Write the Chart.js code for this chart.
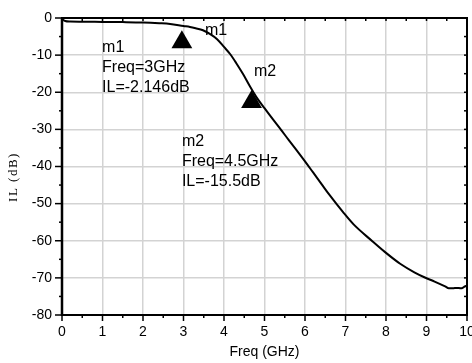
<!DOCTYPE html>
<html>
<head>
<meta charset="utf-8">
<script src="https://cdn.jsdelivr.net/npm/chart.js@4.4.0/dist/chart.umd.min.js"></script>
<style>
  body { margin: 0; background: #fff; }
  canvas { display: block; }
</style>
</head>
<body>
<canvas id="ilChart" width="472" height="363"></canvas>
<script>
// insertion loss trace
const freq = [0, 0.08, 0.2, 0.5, 1, 1.5, 2, 2.4, 2.67, 3.0, 3.16, 3.3, 3.48, 3.65, 3.83, 4.0, 4.15, 4.3, 4.47, 4.65,
    4.8, 5.0, 5.2, 5.4, 5.6, 5.8, 6.0, 6.2, 6.4, 6.6, 6.94, 7.2, 7.65, 7.97, 8.35, 8.7, 8.96, 9.2, 9.46, 9.55,
    9.65, 9.75, 9.85, 9.92, 9.97, 10];
const il = [-0.3, -0.8, -0.95, -1.0, -1.05, -1.1, -1.2, -1.4, -1.6, -2.15, -2.4, -2.75, -3.3, -4.3, -5.7, -7.8, -9.7, -12.1, -15.1, -18.6,
    -21.3, -24.3, -27.2, -30.0, -32.9, -35.7, -38.6, -41.6, -44.6, -47.6, -52.3, -55.6, -60.0, -63.0, -66.2, -68.5, -69.9, -71.0, -72.3, -72.8,
    -72.8, -72.7, -72.8, -72.5, -72.2, -72.4];

// marker triangles (as drawn, sitting just under the trace)
const markerFreq = [2.96, 4.68];
const markerIL = [-6.5, -22.6];

const xTicks = [0, 1, 2, 3, 4, 5, 6, 7, 8, 9, 10];
const yTicks = [0, -10, -20, -30, -40, -50, -60, -70, -80];

// marker text, placed in data coordinates
const notes = [
    { x: 0.99, y: -8.1, lines: ["m1", "Freq=3GHz", "IL=-2.146dB"] },
    { x: 2.96, y: -33.4, lines: ["m2", "Freq=4.5GHz", "IL=-15.5dB"] },
    { x: 3.53, y: -3.4, lines: ["m1"] },
    { x: 4.74, y: -14.5, lines: ["m2"] },
];

Chart.defaults.font.family = "'Liberation Sans', Arial, sans-serif";
Chart.defaults.font.size = 14;
Chart.defaults.color = "#000";

const framePlugin = {
    id: "frame",
    afterDatasetsDraw(chart) {
        const { ctx, chartArea: a, scales: { x, y } } = chart;
        const line = (x1, y1, x2, y2) => {
            ctx.beginPath();
            ctx.moveTo(x1, y1);
            ctx.lineTo(x2, y2);
            ctx.stroke();
        };
        ctx.save();
        ctx.strokeStyle = "#000";
        ctx.lineWidth = 1.5;
        for (let v = 0; v <= 10; v += 0.5) {
            const px = x.getPixelForValue(v);
            const major = v % 1 === 0;
            line(px, a.bottom, px, a.bottom + (major ? 6 : 3));
            line(px, a.top, px, a.top + 3);
        }
        for (let v = -80; v <= 0; v += 5) {
            const py = y.getPixelForValue(v);
            const major = v % 10 === 0;
            line(a.left - (major ? 7 : 3), py, a.left, py);
            line(a.right - 3, py, a.right, py);
        }
        ctx.lineWidth = 2;
        ctx.strokeRect(a.left, a.top, a.right - a.left, a.bottom - a.top);
        ctx.lineWidth = 2.5;
        line(a.left, a.top, a.left, a.bottom + 1);

        // x tick labels (drawn here so the last one may run off the edge)
        ctx.font = "14px 'Liberation Sans', Arial, sans-serif";
        ctx.fillStyle = "#000";
        ctx.textAlign = "center";
        ctx.textBaseline = "middle";
        xTicks.forEach(v => ctx.fillText(String(v), x.getPixelForValue(v), a.bottom + 17));

        // y axis title (serif, slightly spaced)
        ctx.save();
        ctx.translate(14, 177);
        ctx.rotate(-Math.PI / 2);
        ctx.font = "13px 'Liberation Serif', 'Times New Roman', serif";
        ctx.letterSpacing = "1.5px";
        ctx.textAlign = "center";
        ctx.textBaseline = "middle";
        ctx.fillText("IL (dB)", 0, 0);
        ctx.restore();

        // marker notes
        ctx.font = "16px 'Liberation Sans', Arial, sans-serif";
        ctx.textAlign = "left";
        ctx.textBaseline = "middle";
        notes.forEach(n => {
            const px = x.getPixelForValue(n.x);
            const py = y.getPixelForValue(n.y);
            n.lines.forEach((t, i) => ctx.fillText(t, px, py + i * 20));
        });
        ctx.restore();
    },
};

const config = {
    type: "scatter",
    data: {
        datasets: [
            {
                label: "IL",
                data: freq.map((f, i) => ({ x: f, y: il[i] })),
                showLine: true,
                borderColor: "#000",
                borderWidth: 2,
                pointRadius: 0,
                cubicInterpolationMode: "monotone",
            },
            {
                label: "markers",
                data: markerFreq.map((f, i) => ({ x: f, y: markerIL[i] })),
                showLine: false,
                pointStyle: "triangle",
                pointRadius: 12,
                backgroundColor: "#000",
                borderColor: "#000",
                borderWidth: 0,
            },
        ],
    },
    options: {
        responsive: false,
        animation: false,
        layout: { autoPadding: false, padding: { top: 18, right: 5, left: 0, bottom: 0 } },
        plugins: { legend: { display: false }, tooltip: { enabled: false } },
        scales: {
            x: {
                type: "linear",
                min: 0,
                max: 10,
                afterBuildTicks: s => { s.ticks = xTicks.map(v => ({ value: v })); },
                afterFit: s => { s.height = 48; s.paddingLeft = 0; s.paddingRight = 0; },
                grid: { color: "#d3d3d3", lineWidth: 1.5, drawTicks: false },
                border: { display: false },
                ticks: { display: false },
                title: {
                    display: true,
                    text: "Freq (GHz)",
                    font: { size: 14 },
                    padding: { top: 0, bottom: 2 },
                },
            },
            y: {
                type: "linear",
                min: -80,
                max: 0,
                afterBuildTicks: s => { s.ticks = yTicks.map(v => ({ value: v })); },
                afterFit: s => { s.width = 62; s.paddingTop = 0; s.paddingBottom = 0; },
                grid: { color: "#d3d3d3", lineWidth: 1.5, drawTicks: false },
                border: { display: false },
                ticks: { padding: 10, autoSkip: false },
            },
        },
    },
    plugins: [framePlugin],
};

const ilChart = new Chart(document.getElementById("ilChart"), config);
</script>
</body>
</html>
